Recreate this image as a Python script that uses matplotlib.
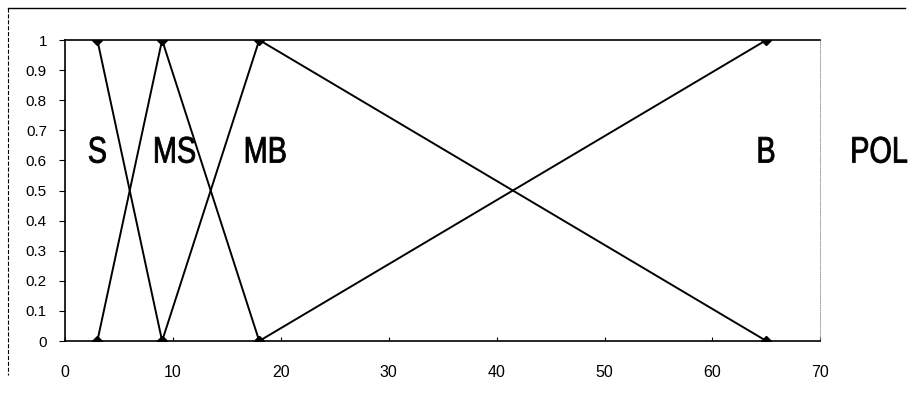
import matplotlib.pyplot as plt
from matplotlib.lines import Line2D
from matplotlib.textpath import TextPath
from matplotlib.patches import PathPatch
from matplotlib.font_manager import FontProperties
from matplotlib.transforms import Affine2D

# membership function data (x, y)
s_x, s_y = [3, 9], [1, 0]
ms_x, ms_y = [3, 9, 18], [0, 1, 0]
mb_x, mb_y = [9, 18, 65], [0, 1, 0]
b_x, b_y = [18, 65], [0, 1]

labels = ['S', 'MS', 'MB', 'B', 'POL']
label_x = [3, 10.2, 18.6, 65, 75.5]
label_y = 0.635

plt.rcParams['font.family'] = ['Liberation Sans', 'DejaVu Sans']

fig = plt.figure(figsize=(9.14, 3.95), dpi=100)
ax = fig.add_axes([0.0711, 0.1367, 0.8265, 0.762])

for x, y in [(s_x, s_y), (ms_x, ms_y), (mb_x, mb_y), (b_x, b_y)]:
    ax.plot(x, y, color='black', lw=1.4, marker='D', markersize=5)

ax.set_xlim(0, 70)
ax.set_ylim(0, 1)

# condensed big labels, drawn as text paths squeezed horizontally
fp = FontProperties(family='Liberation Sans')
for t, x in zip(labels, label_x):
    tp = TextPath((0, 0), t, size=37, prop=fp)
    ext = tp.get_extents()
    cx, cy = (ext.x0 + ext.x1) / 2, (ext.y0 + ext.y1) / 2
    px, py = ax.transData.transform((x, label_y))
    tr = Affine2D().translate(-cx, -cy).scale(0.78, 1).translate(px, py)
    fig.add_artist(PathPatch(tp, transform=tr, fc='black', ec='black', lw=0.6))

ax.set_xticks(range(0, 71, 10))
ax.set_yticks([i / 10 for i in range(11)])
ax.set_yticklabels(['0', '0.1', '0.2', '0.3', '0.4', '0.5', '0.6', '0.7', '0.8', '0.9', '1'])
ax.tick_params(axis='x', direction='in', length=3, labelsize=11.5, pad=17)
ax.tick_params(axis='y', direction='out', length=4, labelsize=11, pad=9)
ax.spines['right'].set_linestyle(':')
ax.spines['right'].set_linewidth(0.6)
ax.spines['right'].set_color('#888888')
for s in ['left', 'bottom', 'top']:
    ax.spines[s].set_linewidth(1.2)

# outer chart border (top and left)
fig.add_artist(Line2D([0.009, 0.99], [0.98, 0.98], color='black', lw=1.0))
fig.add_artist(Line2D([0.009, 0.009], [0.98, 0.05], color='black', lw=0.8, ls='--'))

fig.savefig('out.png', dpi=100)
